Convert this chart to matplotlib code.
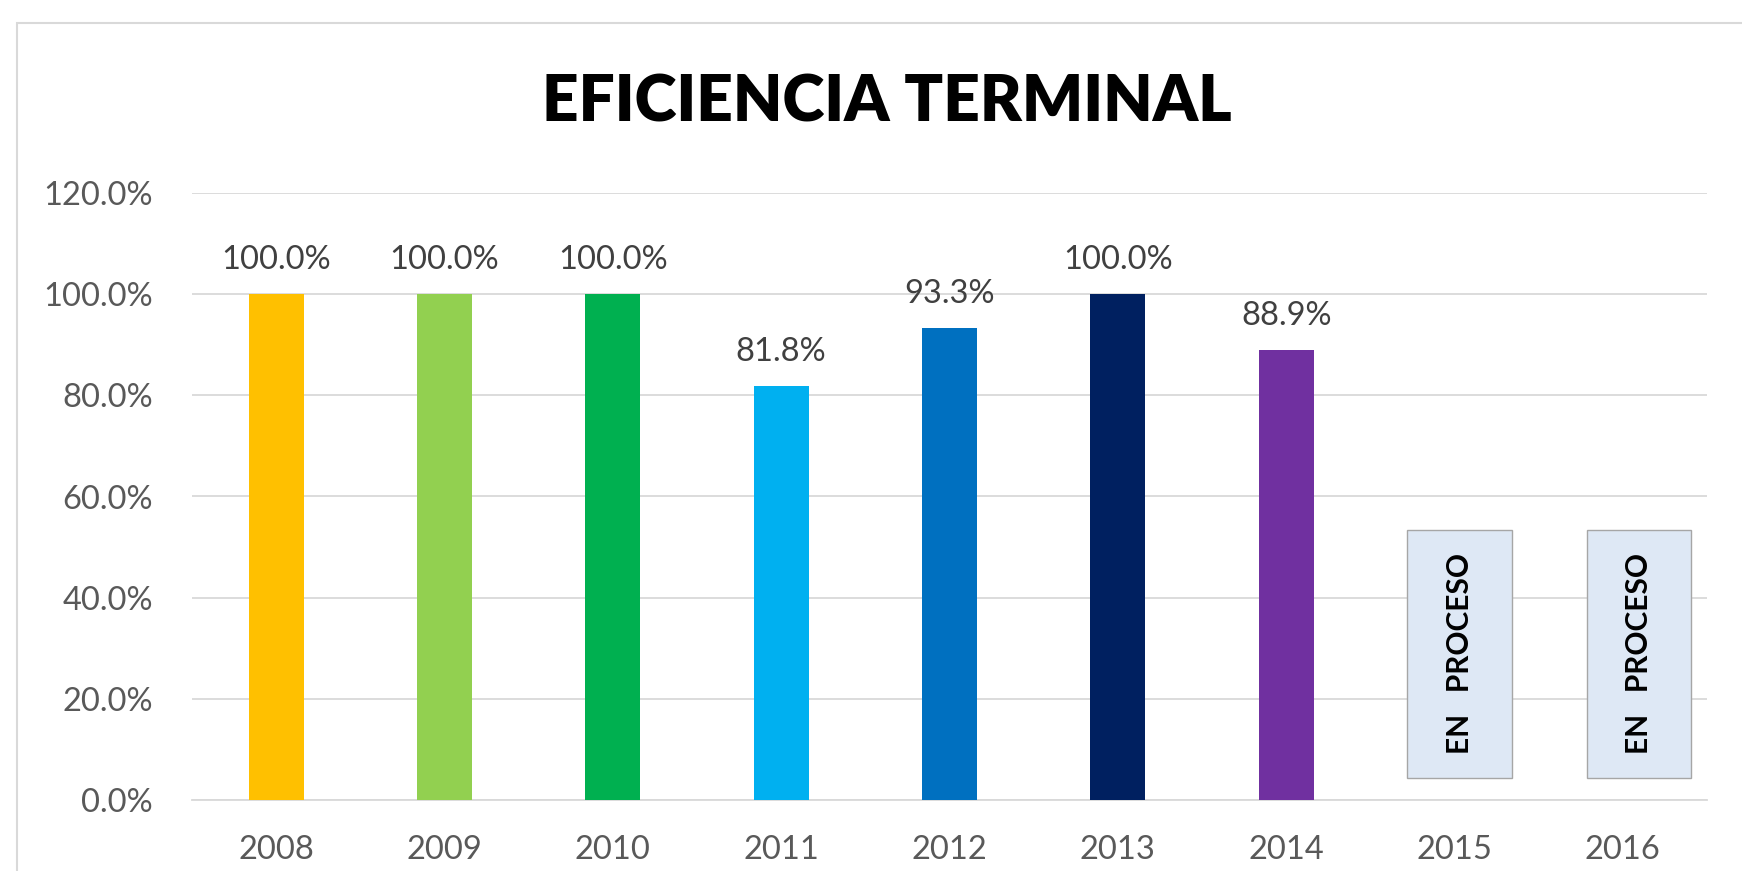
import matplotlib
matplotlib.use("Agg")
import matplotlib.pyplot as plt
from matplotlib.patches import Rectangle
import numpy as np

# ---- data ----
years = ["2008", "2009", "2010", "2011", "2012", "2013", "2014", "2015", "2016"]
values = [100.0, 100.0, 100.0, 81.8, 93.3, 100.0, 88.9, None, None]
bar_colors = ["#FFC000", "#92D050", "#00B050", "#00B0F0", "#0070C0", "#002060", "#7030A0"]
pending_label = "EN   PROCESO"
title = "EFICIENCIA TERMINAL"
yticks = [0, 20, 40, 60, 80, 100, 120]

FONT = "Lato"
W, H = 1742, 871
fig = plt.figure(figsize=(W / 100, H / 100), dpi=100)
fig.patch.set_facecolor("white")

# outer chart frame
frame = Rectangle((17 / W, -0.1), 1.2, 1 - 23 / H + 0.1, transform=fig.transFigure,
                  fill=False, edgecolor="#D9D9D9", linewidth=1.5)
fig.patches.append(frame)

ax = fig.add_axes([192 / W, 1 - 800 / H, (1707 - 192) / W, (800 - 193) / H])
ax.set_xlim(-0.5, len(years) - 0.5)
ax.set_ylim(0, 120)

x = np.arange(len(years))
measured = [(i, v) for i, v in enumerate(values) if v is not None]
bx = [i for i, _ in measured]
bv = [v for _, v in measured]
ax.bar(bx, bv, width=0.327, color=bar_colors, zorder=3)

for i, v in measured:
    ax.annotate(f"{v:.1f}%", (i, v), xytext=(0, 18), textcoords="offset points",
                ha="center", va="baseline", fontsize=23.5, color="#404040",
                family=FONT, zorder=4)

# pending boxes
pending = [i for i, v in enumerate(values) if v is None]
box_offsets = [0.03, 0.095]
for i, off in zip(pending, box_offsets):
    cx = i + off
    rect = Rectangle((cx - 0.31, 4.35), 0.62, 53.4 - 4.35, facecolor="#DEE8F5",
                     edgecolor="#A6A6A6", linewidth=1.0, zorder=4)
    ax.add_patch(rect)
    ax.text(cx, (4.35 + 53.4) / 2, pending_label, rotation=90, ha="center", va="center",
            fontsize=21.5, fontweight="bold", color="black", family=FONT, zorder=5)

ax.set_yticks(yticks)
ax.set_yticklabels([f"{t:.1f}%" for t in yticks])
ax.set_xticks(x)
ax.set_xticklabels(years)
ax.grid(axis="y", color="#D9D9D9", linewidth=1.3, zorder=0)
ax.set_axisbelow(True)
for s in ["top", "right", "left"]:
    ax.spines[s].set_visible(False)
ax.spines["bottom"].set_color("#D9D9D9")
ax.spines["bottom"].set_linewidth(1.3)
ax.tick_params(axis="both", length=0, labelsize=23.5, labelcolor="#595959")
ax.tick_params(axis="y", pad=28)
ax.tick_params(axis="x", pad=25)
for lab in ax.get_xticklabels() + ax.get_yticklabels():
    lab.set_family(FONT)

fig.text(887 / W, 1 - 122 / H, title, ha="center", va="baseline",
         fontsize=46, fontweight="heavy", family=FONT, color="black")

fig.savefig("out.png", dpi=100, facecolor="white")
